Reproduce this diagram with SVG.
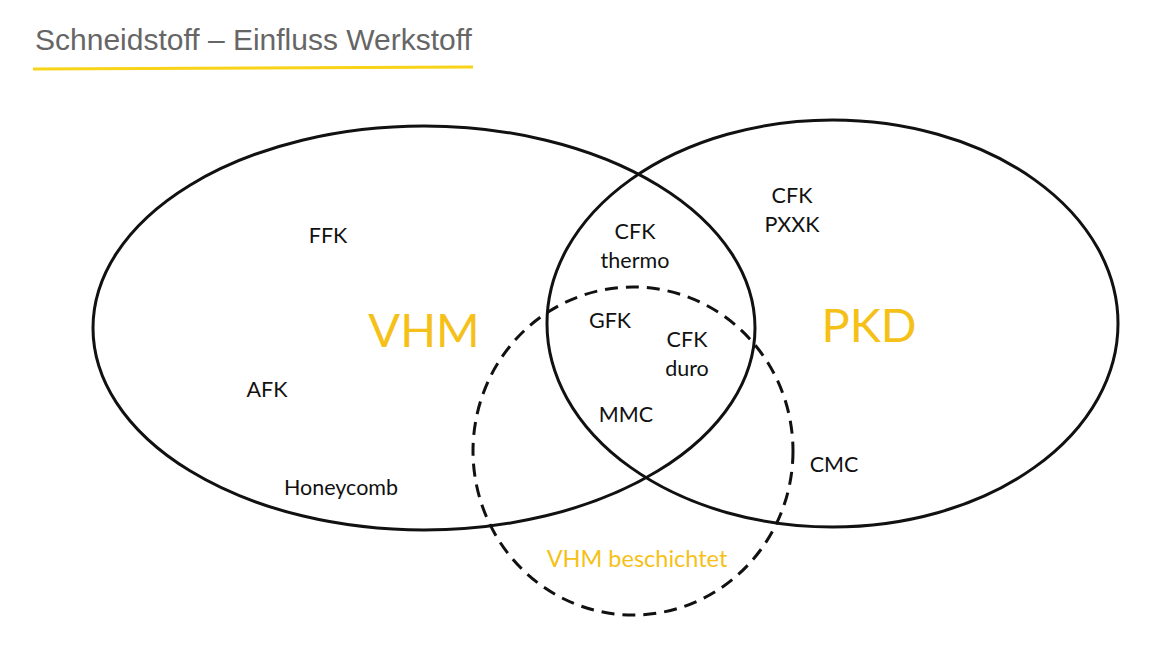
<svg xmlns="http://www.w3.org/2000/svg" width="1168" height="667" viewBox="0 0 1168 667">
<style>
.ring{fill:none;stroke:#111;stroke-width:3}
.dash{fill:none;stroke:#111;stroke-width:3;stroke-dasharray:13 8}
.lbl{font-family:Lato,"Open Sans",sans-serif;font-size:21.5px;fill:#111;text-anchor:middle}
.big{font-family:Lato,"Open Sans",sans-serif;font-size:47px;fill:#F5C118;text-anchor:middle}
.sub{font-family:Lato,"Open Sans",sans-serif;font-size:23.5px;fill:#F5C118;text-anchor:middle}
.title{font-family:"Liberation Sans",Arial,sans-serif;font-size:30px;fill:#666}
</style>
<rect width="1168" height="667" fill="#fff"/>
<g id="title">
<text class="title" x="35" y="50">Schneidstoff – Einfluss Werkstoff</text>
<line x1="33" y1="69" x2="473" y2="67" stroke="#F7D417" stroke-width="3"/>
</g>
<g id="vhm">
<ellipse class="ring" cx="424" cy="328" rx="331" ry="202"/>
<text class="big" x="424" y="347">VHM</text>
</g>
<g id="pkd">
<ellipse class="ring" cx="832.5" cy="323.5" rx="285.5" ry="203.5"/>
<text class="big" x="869" y="342">PKD</text>
</g>
<g id="vhm-beschichtet">
<ellipse class="dash" cx="633" cy="451" rx="160" ry="164"/>
<text class="sub" x="637" y="567">VHM beschichtet</text>
</g>
<g id="labels">
<text class="lbl" x="328" y="243">FFK</text>
<text class="lbl" x="267" y="397">AFK</text>
<text class="lbl" x="341" y="495">Honeycomb</text>
<text class="lbl" x="635" y="239">CFK</text>
<text class="lbl" x="635" y="268">thermo</text>
<text class="lbl" x="792" y="203">CFK</text>
<text class="lbl" x="792" y="232">PXXK</text>
<text class="lbl" x="610" y="328">GFK</text>
<text class="lbl" x="687" y="347">CFK</text>
<text class="lbl" x="687" y="376">duro</text>
<text class="lbl" x="626" y="422">MMC</text>
<text class="lbl" x="834" y="472">CMC</text>
</g>
<g id="connectors"></g>
</svg>
